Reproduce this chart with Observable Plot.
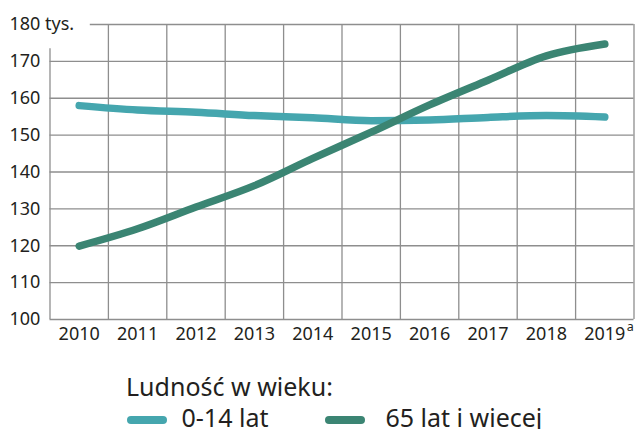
<!DOCTYPE html>
<html>
<head>
<meta charset="utf-8">
<script src="https://cdn.jsdelivr.net/npm/d3@7"></script>
<script src="https://cdn.jsdelivr.net/npm/@observablehq/plot@0.6"></script>
<style>
  html, body { margin: 0; padding: 0; background: #fff; }
  body { width: 635px; height: 429px; position: relative; overflow: hidden; font-family: 'Noto Sans', sans-serif; color: #231f20; }
  #chart { position: absolute; left: 0; top: 0; }
  .lg { position: absolute; font-size: 25px; line-height: 30px; white-space: nowrap; }
  .sw { position: absolute; width: 40px; height: 8px; border-radius: 4px; }
</style>
</head>
<body>
<div id="chart"></div>
<div class="lg" id="lgTitle" style="left:126px; top:371px;"></div>
<div class="sw" id="sw0" style="left:127px; top:416px;"></div>
<div class="lg" id="lg0" style="left:181.5px; top:402px;"></div>
<div class="sw" id="sw1" style="left:325px; top:416px;"></div>
<div class="lg" id="lg1" style="left:385.5px; top:402px;"></div>
<script>
const years = [2010, 2011, 2012, 2013, 2014, 2015, 2016, 2017, 2018, 2019];
const age0to14 = [158.0, 156.8, 156.2, 155.3, 154.7, 153.9, 154.1, 154.8, 155.3, 154.9];
const age65plus = [119.9, 124.6, 130.5, 136.3, 143.7, 150.8, 158.2, 164.9, 171.5, 174.7];
const seriesNames = ["0-14 lat", "65 lat i wiecej"];
const seriesColors = ["#45a6ae", "#3b8573"];
const yTicks = [100, 110, 120, 130, 140, 150, 160, 170, 180];
const yUnit = "tys.";
const legendTitle = "Ludność w wieku:";
const footnoteMark = "a";

const data = [];
years.forEach((yr, i) => {
  data.push({year: yr, value: age0to14[i], series: seriesNames[0]});
  data.push({year: yr, value: age65plus[i], series: seriesNames[1]});
});

const x0 = years[0] - 0.5, x1 = years[years.length - 1] + 0.5;
const bounds = years.map(y => y + 0.5);
const grid = "#8e8e8e";
const yMin = yTicks[0], yMax = yTicks[yTicks.length - 1];

const chart = Plot.plot({
  width: 635,
  height: 350,
  marginTop: 24,
  marginBottom: 31,
  marginLeft: 49.5,
  marginRight: 1.5,
  style: {fontFamily: "'Noto Sans', sans-serif", fontSize: "18px", color: "#231f20", background: "#fff"},
  x: {domain: [x0, x1], axis: null, label: null},
  y: {domain: [yMin, yMax], axis: null, label: null},
  color: {domain: seriesNames, range: seriesColors},
  marks: [
    Plot.ruleY(yTicks.slice(0, -1), {x1: x0, x2: x1, stroke: grid, strokeWidth: 1.3}),
    Plot.ruleY([yMax], {x1: x0 + 0.69, x2: x1, stroke: grid, strokeWidth: 1.3}),
    Plot.ruleX(bounds, {y1: yMin, y2: yMax, stroke: grid, strokeWidth: 1.3}),
    Plot.ruleX([x0], {y1: yMin, y2: 173.4, stroke: grid, strokeWidth: 1.3}),
    Plot.line(data, {x: "year", y: "value", z: "series", stroke: "series", strokeWidth: 7.5, curve: "monotone-x", strokeLinecap: "round", strokeLinejoin: "round"}),
    Plot.axisY({ticks: yTicks, label: null, tickSize: 0, tickPadding: 0, textAnchor: "start", dx: -40.5, fontSize: 18,
      tickFormat: d => d === yMax ? `${d} ${yUnit}` : String(d)}),
    Plot.axisX({ticks: years, label: null, tickSize: 0, tickPadding: 7.5, fontSize: 18, tickFormat: d => String(d)}),
    Plot.text([years[years.length - 1]], {x: d => d, y: yMin, text: () => footnoteMark, fontSize: 12.5, textAnchor: "start", lineAnchor: "bottom", dx: 22, dy: 11})
  ]
});
document.getElementById("chart").appendChild(chart);

document.getElementById("lgTitle").textContent = legendTitle;
document.getElementById("lg0").textContent = seriesNames[0];
document.getElementById("lg1").textContent = seriesNames[1];
document.getElementById("sw0").style.background = seriesColors[0];
document.getElementById("sw1").style.background = seriesColors[1];
</script>
</body>
</html>
